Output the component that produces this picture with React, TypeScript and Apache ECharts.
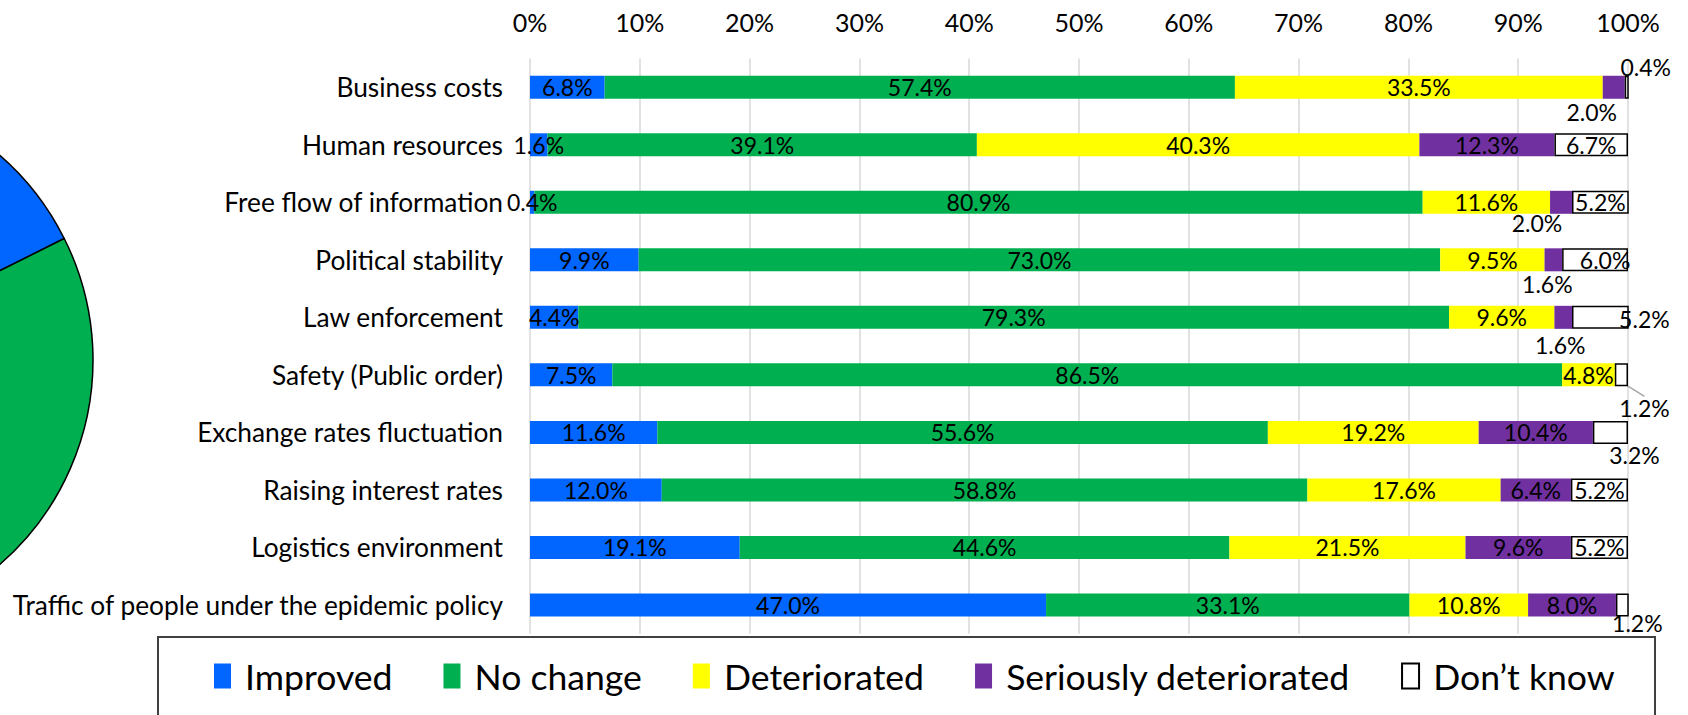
import React, { useEffect, useRef } from "react";
import * as echarts from "echarts";

// Survey categories, listed top to bottom
const categories = [
  "Business costs",
  "Human resources",
  "Free flow of information",
  "Political stability",
  "Law enforcement",
  "Safety (Public order)",
  "Exchange rates fluctuation",
  "Raising interest rates",
  "Logistics environment",
  "Traffic of people under the epidemic policy",
];

// Share of answers per category (%)
const improved = [6.8, 1.6, 0.4, 9.9, 4.4, 7.5, 11.6, 12.0, 19.1, 47.0];
const noChange = [57.4, 39.1, 80.9, 73.0, 79.3, 86.5, 55.6, 58.8, 44.6, 33.1];
const deteriorated = [33.5, 40.3, 11.6, 9.5, 9.6, 4.8, 19.2, 17.6, 21.5, 10.8];
const seriouslyDeteriorated = [2.0, 12.3, 2.0, 1.6, 1.6, 0, 10.4, 6.4, 9.6, 8.0];
const dontKnow = [0.4, 6.7, 5.2, 6.0, 5.2, 1.2, 3.2, 5.2, 5.2, 1.2];

// Overall answer shares for the side pie (%)
const overallShares = [17.6, 55.8, 17.9, 5.5, 3.2];

const seriesNames = ["Improved", "No change", "Deteriorated", "Seriously deteriorated", "Don\u2019t know"];
const seriesColors = ["#0066FF", "#00B050", "#FFFF00", "#7030A0", "#FFFFFF"];

const FONT = "Lato";

// Small labels that sit beside their segment: [series, category] -> [dx, dy]
const labelNudges: Record<string, [number, number]> = {
  "3-0": [-22, 25],
  "4-0": [19, -20],
  "3-2": [-24, 21],
  "3-3": [-6, 24],
  "4-3": [10, 0],
  "3-4": [-3, 28],
  "4-4": [44, 2],
  "4-5": [23, 33],
  "4-6": [24, 23],
  "4-9": [15, 18],
};
const leaderLines = new Set(["4-5"]);

export default function App() {
  const ref = useRef<HTMLDivElement>(null);

  useEffect(() => {
    if (!ref.current) return;
    const chart = echarts.init(ref.current, undefined, { renderer: "svg" });

    const columns = [improved, noChange, deteriorated, seriouslyDeteriorated, dontKnow];

    const barSeries = columns.map((vals, si) => ({
      name: seriesNames[si],
      type: "bar",
      stack: "total",
      barWidth: 23,
      itemStyle: {
        color: seriesColors[si],
        borderColor: si === 4 ? "#000000" : seriesColors[si],
        borderWidth: si === 4 ? 1.5 : 0,
      },
      label: {
        show: true,
        position: "inside",
        color: "#000000",
        fontFamily: FONT,
        fontSize: 23,
        formatter: (p: any) => (p.value > 0 ? `${Number(p.value).toFixed(1)}%` : ""),
      },
      labelLine: { show: false, lineStyle: { color: "#A6A6A6", width: 1.5 } },
      labelLayout: (params: any) => {
        const n = labelNudges[`${si}-${params.dataIndex}`];
        return n ? { dx: n[0], dy: n[1] } : {};
      },
      data: vals.map((v, ci) =>
        leaderLines.has(`${si}-${ci}`)
          ? { value: v, labelLine: { show: true, lineStyle: { color: "#A6A6A6", width: 1.5 } } }
          : v
      ),
    }));

    const option: any = {
      animation: false,
      grid: { left: 530, right: 60, top: 58.5, bottom: 81.3, containLabel: false },
      xAxis: {
        type: "value",
        position: "top",
        min: 0,
        max: 100,
        interval: 10,
        axisLine: { show: false },
        axisTick: { show: false },
        axisLabel: {
          formatter: "{value}%",
          color: "#000000",
          fontFamily: FONT,
          fontSize: 25,
          margin: 24,
        },
        splitLine: { show: true, lineStyle: { color: "#D9D9D9", width: 1.5 } },
      },
      yAxis: {
        type: "category",
        inverse: true,
        data: categories,
        axisLine: { show: false },
        axisTick: { show: false },
        axisLabel: { color: "#000000", fontFamily: FONT, fontSize: 26.3, margin: 27 },
      },
      legend: {
        data: seriesNames,
        left: 209,
        top: 653,
        icon: "rect",
        itemWidth: 17,
        itemHeight: 25,
        itemGap: 51,
        formatter: (name: string) => " " + name,
        textStyle: { color: "#000000", fontFamily: FONT, fontSize: 35.6 },
        selectedMode: false,
      },
      graphic: [
        {
          type: "rect",
          shape: { x: 158, y: 637, width: 1497, height: 120 },
          style: { fill: "none", stroke: "#404040", lineWidth: 2 },
          silent: true,
          z: 10,
        },
      ],
      series: [
        {
          name: "Overall",
          type: "pie",
          center: [-178, 360],
          radius: 271,
          startAngle: 90,
          clockwise: true,
          label: { show: false },
          labelLine: { show: false },
          itemStyle: { borderColor: "#000000", borderWidth: 1.5 },
          data: overallShares.map((v, i) => ({
            name: seriesNames[i] + " (overall)",
            value: v,
            itemStyle: { color: seriesColors[i] },
          })),
        },
        ...barSeries,
      ],
    };

    chart.setOption(option);
    return () => chart.dispose();
  }, []);

  return (
    <div
      ref={ref}
      style={{ position: "fixed", left: 0, top: 0, width: 1688, height: 715, background: "#FFFFFF" }}
    />
  );
}
